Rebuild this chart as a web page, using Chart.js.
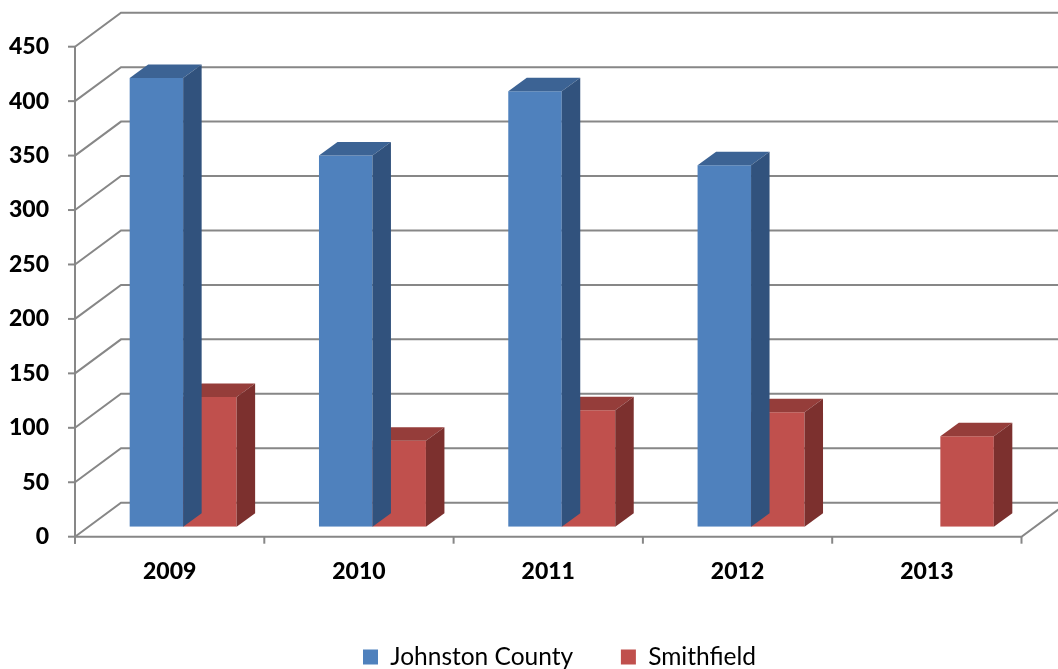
<!DOCTYPE html>
<html>
<head>
<meta charset="utf-8">
<script src="https://cdn.jsdelivr.net/npm/chart.js@4.4.1/dist/chart.umd.min.js"></script>
<style>
  html, body { margin: 0; padding: 0; background: #fff; overflow: hidden; }
  #wrap { width: 1058px; height: 669px; position: relative; }
</style>
</head>
<body>
<div id="wrap"><canvas id="c"></canvas></div>
<script>
// ---- data ----
const years = ['2009', '2010', '2011', '2012', '2013'];
const johnstonCounty = [412, 341, 400, 332, null];
const smithfield = [119, 79, 107, 105, 83];
const yTicks = [0, 50, 100, 150, 200, 250, 300, 350, 400, 450];

// ---- 3D look (offsets relative to the bar plane) ----
const FRONT = { dx: -13.5, dy: 10 };   // front plane (axis labels / floor edge)
const BACK = { dx: 32.5, dy: -24 };    // back wall
const BAR_DEPTH = { dx: 18.5, dy: -13.5 };
const GRID = '#878787';
const LEGEND_PAD = 47.75;
const LEGEND_START_X = 363;

const faceColors = [
  { front: '#4F81BD', top: '#3C6394', side: '#31527D' },
  { front: '#C0504D', top: '#953D3A', side: '#7C302E' }
];

Chart.defaults.font.family = 'Lato, Carlito, Calibri, sans-serif';
Chart.defaults.color = '#000';

const wallsPlugin = {
  id: 'walls',
  afterLayout(chart) {
    const lg = chart.legend;
    if (!lg || !lg.lineWidths) return;
    const cur = (lg.left + LEGEND_PAD + lg.right - lg.lineWidths[0]) / 2;
    const d = LEGEND_START_X - cur;
    lg.left += d;
    lg.right += d;
  },
  beforeDatasetsDraw(chart) {
    const { ctx, chartArea: a, scales: { x, y } } = chart;
    ctx.save();
    ctx.strokeStyle = GRID;
    ctx.lineWidth = 2;
    ctx.lineCap = 'butt';
    const fl = a.left + FRONT.dx, fr = a.right + FRONT.dx;
    const bl = a.left + BACK.dx, br = a.right + BACK.dx;
    y.ticks.forEach(t => {
      const p = y.getPixelForValue(t.value);
      ctx.beginPath();
      ctx.moveTo(fl, p + FRONT.dy);
      ctx.lineTo(bl, p + BACK.dy);
      ctx.lineTo(br, p + BACK.dy);
      ctx.stroke();
      ctx.beginPath();
      ctx.moveTo(fl - 7, p + FRONT.dy);
      ctx.lineTo(fl, p + FRONT.dy);
      ctx.stroke();
    });
    const p0 = y.getPixelForValue(0) + FRONT.dy;
    const pTop = y.getPixelForValue(y.max) + FRONT.dy;
    ctx.beginPath();
    ctx.moveTo(fl, pTop);
    ctx.lineTo(fl, p0 + 7);
    ctx.stroke();
    ctx.beginPath();
    ctx.moveTo(fl, p0);
    ctx.lineTo(fr, p0);
    ctx.lineTo(a.right + BACK.dx, y.getPixelForValue(0) + BACK.dy);
    ctx.stroke();
    const n = x.ticks.length;
    const cw = (a.right - a.left) / n;
    for (let i = 0; i <= n; i++) {
      const px = (i < n ? x.getPixelForValue(i) - cw / 2 : x.getPixelForValue(n - 1) + cw / 2) + FRONT.dx;
      ctx.beginPath();
      ctx.moveTo(px, p0);
      ctx.lineTo(px, p0 + 7);
      ctx.stroke();
    }
    ctx.restore();
  },
  afterDatasetDraw(chart, args) {
    const { ctx } = chart;
    const meta = args.meta;
    const col = faceColors[args.index];
    const data = chart.data.datasets[args.index].data;
    ctx.save();
    meta.data.forEach((bar, i) => {
      if (data[i] === null || data[i] === undefined) return;
      const { x, y, base, width } = bar.getProps(['x', 'y', 'base', 'width'], true);
      const l = x - width / 2, r = x + width / 2;
      const dx = BAR_DEPTH.dx, dy = BAR_DEPTH.dy;
      ctx.fillStyle = col.top;
      ctx.beginPath();
      ctx.moveTo(l, y);
      ctx.lineTo(l + dx, y + dy);
      ctx.lineTo(r + dx, y + dy);
      ctx.lineTo(r, y);
      ctx.closePath();
      ctx.fill();
      ctx.fillStyle = col.side;
      ctx.beginPath();
      ctx.moveTo(r, y);
      ctx.lineTo(r + dx, y + dy);
      ctx.lineTo(r + dx, base + dy);
      ctx.lineTo(r, base);
      ctx.closePath();
      ctx.fill();
    });
    ctx.restore();
  }
};

new Chart(document.getElementById('c'), {
  type: 'bar',
  data: {
    labels: years,
    datasets: [
      { label: 'Johnston County', data: johnstonCounty, backgroundColor: faceColors[0].front, borderWidth: 0 },
      { label: 'Smithfield', data: smithfield, backgroundColor: faceColors[1].front, borderWidth: 0 }
    ]
  },
  options: {
    responsive: true,
    maintainAspectRatio: false,
    devicePixelRatio: 1,
    animation: false,
    layout: { padding: { left: 0, right: 23, top: 36.7, bottom: -10.25 } },
    datasets: { bar: { categoryPercentage: 0.565, barPercentage: 1 } },
    plugins: {
      tooltip: { enabled: false },
      legend: {
        position: 'bottom',
        labels: {
          boxWidth: 15, boxHeight: 15, padding: LEGEND_PAD,
          font: { size: 24.5 }, color: '#000'
        }
      }
    },
    scales: {
      x: {
        grid: { display: false, drawTicks: false, tickLength: 0 },
        border: { display: false },
        ticks: { font: { size: 23, weight: '900' }, padding: 31.5, labelOffset: FRONT.dx, maxRotation: 0 },
        afterFit(s) { s.height = 70.3; s.paddingLeft = 0; s.paddingRight = 0; }
      },
      y: {
        min: 0, max: 450,
        afterBuildTicks(s) { s.ticks = yTicks.map(v => ({ value: v })); },
        grid: { display: false, drawTicks: false, tickLength: 0 },
        border: { display: false },
        ticks: { font: { size: 23, weight: '900' }, padding: 39.5, labelOffset: FRONT.dy },
        afterFit(s) { s.width = 88.5; s.paddingTop = 0; s.paddingBottom = 0; }
      }
    }
  },
  plugins: [wallsPlugin]
});
</script>
</body>
</html>
